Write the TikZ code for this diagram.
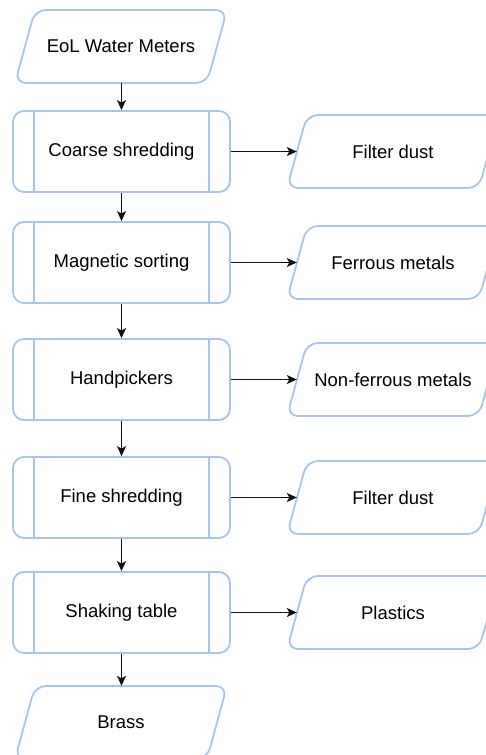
\documentclass[tikz,border=0pt]{standalone}
\usepackage{fontspec}
\setmainfont{Liberation Sans}
\usetikzlibrary{arrows.meta}
\definecolor{edgeblue}{HTML}{A9C4EB}
\definecolor{arrowgray}{HTML}{111111}
\tikzset{
  txt/.style={font=\fontsize{18.5}{21}\selectfont, text=black},
  io/.style={rectangle, minimum width=192pt, minimum height=73pt, inner sep=0pt, txt},
  outline/.style={draw=edgeblue, line width=1.8pt, rounded corners=11pt},
  procbox/.style={rectangle, minimum width=217pt, minimum height=81pt,
    draw=edgeblue, line width=1.8pt, rounded corners=11pt, inner sep=0pt, txt},
  inner/.style={draw=edgeblue, line width=1.8pt},
  flow/.style={draw=arrowgray, line width=1.3pt, -{Stealth[length=10pt,width=9pt,inset=2.5pt]}}
}
\newcommand{\sidelines}[1]{%
  \draw[inner] ([xshift=22pt]#1.north west) -- ([xshift=22pt]#1.south west);
  \draw[inner] ([xshift=-22pt]#1.north east) -- ([xshift=-22pt]#1.south east);}
\newcommand{\ioframe}[1]{%
  \draw[outline, shift={(#1.center)}] (-86,-36.5) -- (106,-36.5) -- (86,36.5) -- (-106,36.5) -- cycle;}
\begin{document}
\begin{tikzpicture}[x=1pt,y=-1pt]
\useasboundingbox (0,0) rectangle (485,755);
\node[io] (src) at (121,46.5) {EoL Water Meters};
\node[procbox] (b1) at (121.5,151.5) {Coarse shredding};
\node[procbox] (b2) at (121.5,262.5) {Magnetic sorting};
\node[procbox] (b3) at (121.5,379.5) {Handpickers};
\node[procbox] (b4) at (121.5,497.5) {Fine shredding};
\node[procbox] (b5) at (121.5,612.5) {Shaking table};
\node[io] (brass) at (121,722.5) {Brass};
\foreach \n in {b1,b2,b3,b4,b5}{\sidelines{\n}}
\node[io] (o1) at (393,151.5) {Filter dust};
\node[io] (o2) at (393,262.5) {Ferrous metals};
\node[io] (o3) at (393,379.5) {Non-ferrous metals};
\node[io] (o4) at (393,497.5) {Filter dust};
\node[io] (o5) at (393,612.5) {Plastics};
\foreach \n in {src,brass,o1,o2,o3,o4,o5}{\ioframe{\n}}
\draw[flow] (src.south -| b1.north) -- (b1.north);
\draw[flow] (b1) -- (b2);
\draw[flow] (b2) -- (b3);
\draw[flow] (b3) -- (b4);
\draw[flow] (b4) -- (b5);
\draw[flow] (b5.south) -- (brass.north -| b5.south);
\draw[flow] (b1) -- (o1);
\draw[flow] (b2) -- (o2);
\draw[flow] (b3) -- (o3);
\draw[flow] (b4) -- (o4);
\draw[flow] (b5) -- (o5);
\end{tikzpicture}
\end{document}
